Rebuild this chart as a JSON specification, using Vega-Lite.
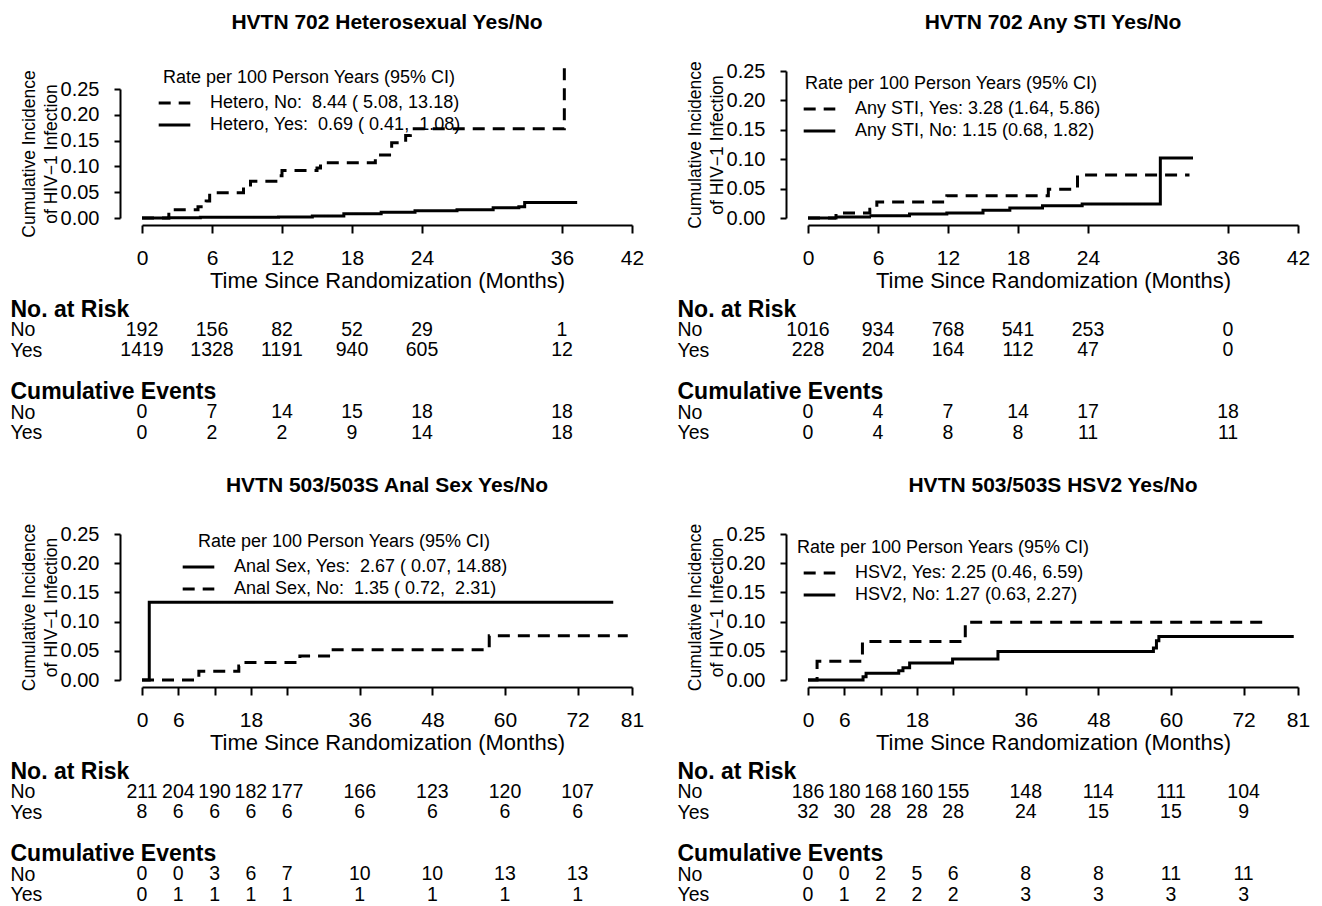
{
  "$schema": "https://vega.github.io/schema/vega-lite/v6.json",
  "background": "white",
  "padding": {"left": 10, "top": 11, "right": 5, "bottom": 5},
  "datasets": {
    "curves": [
      {"panel":"TL","grp":"Hetero, No:\u00a0 8.44 ( 5.08, 13.18)","t":0,"p":0},
      {"panel":"TL","grp":"Hetero, No:\u00a0 8.44 ( 5.08, 13.18)","t":2.3,"p":0.016},
      {"panel":"TL","grp":"Hetero, No:\u00a0 8.44 ( 5.08, 13.18)","t":4.8,"p":0.022},
      {"panel":"TL","grp":"Hetero, No:\u00a0 8.44 ( 5.08, 13.18)","t":5.5,"p":0.033},
      {"panel":"TL","grp":"Hetero, No:\u00a0 8.44 ( 5.08, 13.18)","t":5.8,"p":0.049},
      {"panel":"TL","grp":"Hetero, No:\u00a0 8.44 ( 5.08, 13.18)","t":8.7,"p":0.06},
      {"panel":"TL","grp":"Hetero, No:\u00a0 8.44 ( 5.08, 13.18)","t":9.3,"p":0.071},
      {"panel":"TL","grp":"Hetero, No:\u00a0 8.44 ( 5.08, 13.18)","t":11.7,"p":0.082},
      {"panel":"TL","grp":"Hetero, No:\u00a0 8.44 ( 5.08, 13.18)","t":12.0,"p":0.092},
      {"panel":"TL","grp":"Hetero, No:\u00a0 8.44 ( 5.08, 13.18)","t":15.0,"p":0.097},
      {"panel":"TL","grp":"Hetero, No:\u00a0 8.44 ( 5.08, 13.18)","t":15.3,"p":0.107},
      {"panel":"TL","grp":"Hetero, No:\u00a0 8.44 ( 5.08, 13.18)","t":20.0,"p":0.122},
      {"panel":"TL","grp":"Hetero, No:\u00a0 8.44 ( 5.08, 13.18)","t":21.4,"p":0.146},
      {"panel":"TL","grp":"Hetero, No:\u00a0 8.44 ( 5.08, 13.18)","t":22.6,"p":0.16},
      {"panel":"TL","grp":"Hetero, No:\u00a0 8.44 ( 5.08, 13.18)","t":23.0,"p":0.173},
      {"panel":"TL","grp":"Hetero, No:\u00a0 8.44 ( 5.08, 13.18)","t":36.2,"p":0.293},
      {"panel":"TL","grp":"Hetero, Yes:\u00a0 0.69 ( 0.41,\u00a0 1.08)","t":0,"p":0},
      {"panel":"TL","grp":"Hetero, Yes:\u00a0 0.69 ( 0.41,\u00a0 1.08)","t":2.3,"p":0.0007},
      {"panel":"TL","grp":"Hetero, Yes:\u00a0 0.69 ( 0.41,\u00a0 1.08)","t":5.0,"p":0.0014},
      {"panel":"TL","grp":"Hetero, Yes:\u00a0 0.69 ( 0.41,\u00a0 1.08)","t":11.7,"p":0.002},
      {"panel":"TL","grp":"Hetero, Yes:\u00a0 0.69 ( 0.41,\u00a0 1.08)","t":14.6,"p":0.004},
      {"panel":"TL","grp":"Hetero, Yes:\u00a0 0.69 ( 0.41,\u00a0 1.08)","t":17.3,"p":0.008},
      {"panel":"TL","grp":"Hetero, Yes:\u00a0 0.69 ( 0.41,\u00a0 1.08)","t":20.5,"p":0.011},
      {"panel":"TL","grp":"Hetero, Yes:\u00a0 0.69 ( 0.41,\u00a0 1.08)","t":23.4,"p":0.014},
      {"panel":"TL","grp":"Hetero, Yes:\u00a0 0.69 ( 0.41,\u00a0 1.08)","t":27.0,"p":0.016},
      {"panel":"TL","grp":"Hetero, Yes:\u00a0 0.69 ( 0.41,\u00a0 1.08)","t":30.1,"p":0.02},
      {"panel":"TL","grp":"Hetero, Yes:\u00a0 0.69 ( 0.41,\u00a0 1.08)","t":32.3,"p":0.022},
      {"panel":"TL","grp":"Hetero, Yes:\u00a0 0.69 ( 0.41,\u00a0 1.08)","t":32.8,"p":0.03},
      {"panel":"TL","grp":"Hetero, Yes:\u00a0 0.69 ( 0.41,\u00a0 1.08)","t":37.3,"p":0.03},
      {"panel":"TR","grp":"Any STI, Yes: 3.28 (1.64, 5.86)","t":0,"p":0},
      {"panel":"TR","grp":"Any STI, Yes: 3.28 (1.64, 5.86)","t":2.4,"p":0.0085},
      {"panel":"TR","grp":"Any STI, Yes: 3.28 (1.64, 5.86)","t":5.3,"p":0.015},
      {"panel":"TR","grp":"Any STI, Yes: 3.28 (1.64, 5.86)","t":5.9,"p":0.027},
      {"panel":"TR","grp":"Any STI, Yes: 3.28 (1.64, 5.86)","t":11.9,"p":0.038},
      {"panel":"TR","grp":"Any STI, Yes: 3.28 (1.64, 5.86)","t":20.6,"p":0.049},
      {"panel":"TR","grp":"Any STI, Yes: 3.28 (1.64, 5.86)","t":23.1,"p":0.073},
      {"panel":"TR","grp":"Any STI, Yes: 3.28 (1.64, 5.86)","t":32.7,"p":0.073},
      {"panel":"TR","grp":"Any STI, No: 1.15 (0.68, 1.82)","t":0,"p":0},
      {"panel":"TR","grp":"Any STI, No: 1.15 (0.68, 1.82)","t":2.4,"p":0.0017},
      {"panel":"TR","grp":"Any STI, No: 1.15 (0.68, 1.82)","t":5.4,"p":0.004},
      {"panel":"TR","grp":"Any STI, No: 1.15 (0.68, 1.82)","t":8.7,"p":0.0068},
      {"panel":"TR","grp":"Any STI, No: 1.15 (0.68, 1.82)","t":11.9,"p":0.0085},
      {"panel":"TR","grp":"Any STI, No: 1.15 (0.68, 1.82)","t":15.0,"p":0.013},
      {"panel":"TR","grp":"Any STI, No: 1.15 (0.68, 1.82)","t":17.3,"p":0.017},
      {"panel":"TR","grp":"Any STI, No: 1.15 (0.68, 1.82)","t":20.1,"p":0.021},
      {"panel":"TR","grp":"Any STI, No: 1.15 (0.68, 1.82)","t":23.5,"p":0.024},
      {"panel":"TR","grp":"Any STI, No: 1.15 (0.68, 1.82)","t":30.2,"p":0.102},
      {"panel":"TR","grp":"Any STI, No: 1.15 (0.68, 1.82)","t":33.0,"p":0.102},
      {"panel":"BL","grp":"Anal Sex, Yes:\u00a0 2.67 ( 0.07, 14.88)","t":0,"p":0},
      {"panel":"BL","grp":"Anal Sex, Yes:\u00a0 2.67 ( 0.07, 14.88)","t":1.2,"p":0.133},
      {"panel":"BL","grp":"Anal Sex, Yes:\u00a0 2.67 ( 0.07, 14.88)","t":77.9,"p":0.133},
      {"panel":"BL","grp":"Anal Sex, No:\u00a0 1.35 ( 0.72,\u00a0 2.31)","t":0,"p":0},
      {"panel":"BL","grp":"Anal Sex, No:\u00a0 1.35 ( 0.72,\u00a0 2.31)","t":9.4,"p":0.015},
      {"panel":"BL","grp":"Anal Sex, No:\u00a0 1.35 ( 0.72,\u00a0 2.31)","t":16.0,"p":0.024},
      {"panel":"BL","grp":"Anal Sex, No:\u00a0 1.35 ( 0.72,\u00a0 2.31)","t":16.7,"p":0.03},
      {"panel":"BL","grp":"Anal Sex, No:\u00a0 1.35 ( 0.72,\u00a0 2.31)","t":25.7,"p":0.037},
      {"panel":"BL","grp":"Anal Sex, No:\u00a0 1.35 ( 0.72,\u00a0 2.31)","t":26.1,"p":0.041},
      {"panel":"BL","grp":"Anal Sex, No:\u00a0 1.35 ( 0.72,\u00a0 2.31)","t":31.3,"p":0.049},
      {"panel":"BL","grp":"Anal Sex, No:\u00a0 1.35 ( 0.72,\u00a0 2.31)","t":31.6,"p":0.052},
      {"panel":"BL","grp":"Anal Sex, No:\u00a0 1.35 ( 0.72,\u00a0 2.31)","t":57.4,"p":0.0756},
      {"panel":"BL","grp":"Anal Sex, No:\u00a0 1.35 ( 0.72,\u00a0 2.31)","t":80.3,"p":0.0756},
      {"panel":"BR","grp":"HSV2, Yes: 2.25 (0.46, 6.59)","t":0,"p":0},
      {"panel":"BR","grp":"HSV2, Yes: 2.25 (0.46, 6.59)","t":1.5,"p":0.032},
      {"panel":"BR","grp":"HSV2, Yes: 2.25 (0.46, 6.59)","t":9.0,"p":0.066},
      {"panel":"BR","grp":"HSV2, Yes: 2.25 (0.46, 6.59)","t":26.0,"p":0.099},
      {"panel":"BR","grp":"HSV2, Yes: 2.25 (0.46, 6.59)","t":75.1,"p":0.099},
      {"panel":"BR","grp":"HSV2, No: 1.27 (0.63, 2.27)","t":0,"p":0},
      {"panel":"BR","grp":"HSV2, No: 1.27 (0.63, 2.27)","t":9.1,"p":0.0057},
      {"panel":"BR","grp":"HSV2, No: 1.27 (0.63, 2.27)","t":9.6,"p":0.0115},
      {"panel":"BR","grp":"HSV2, No: 1.27 (0.63, 2.27)","t":15.0,"p":0.016},
      {"panel":"BR","grp":"HSV2, No: 1.27 (0.63, 2.27)","t":15.7,"p":0.021},
      {"panel":"BR","grp":"HSV2, No: 1.27 (0.63, 2.27)","t":16.8,"p":0.029},
      {"panel":"BR","grp":"HSV2, No: 1.27 (0.63, 2.27)","t":23.9,"p":0.036},
      {"panel":"BR","grp":"HSV2, No: 1.27 (0.63, 2.27)","t":31.4,"p":0.049},
      {"panel":"BR","grp":"HSV2, No: 1.27 (0.63, 2.27)","t":57.1,"p":0.055},
      {"panel":"BR","grp":"HSV2, No: 1.27 (0.63, 2.27)","t":57.6,"p":0.067},
      {"panel":"BR","grp":"HSV2, No: 1.27 (0.63, 2.27)","t":58.0,"p":0.0747},
      {"panel":"BR","grp":"HSV2, No: 1.27 (0.63, 2.27)","t":80.3,"p":0.0747}
    ],
    "risk": [
      {"panel":"TL","row":"rN","t":0,"n":192},{"panel":"TL","row":"rN","t":6,"n":156},{"panel":"TL","row":"rN","t":12,"n":82},{"panel":"TL","row":"rN","t":18,"n":52},{"panel":"TL","row":"rN","t":24,"n":29},{"panel":"TL","row":"rN","t":36,"n":1},
      {"panel":"TL","row":"rY","t":0,"n":1419},{"panel":"TL","row":"rY","t":6,"n":1328},{"panel":"TL","row":"rY","t":12,"n":1191},{"panel":"TL","row":"rY","t":18,"n":940},{"panel":"TL","row":"rY","t":24,"n":605},{"panel":"TL","row":"rY","t":36,"n":12},
      {"panel":"TL","row":"eN","t":0,"n":0},{"panel":"TL","row":"eN","t":6,"n":7},{"panel":"TL","row":"eN","t":12,"n":14},{"panel":"TL","row":"eN","t":18,"n":15},{"panel":"TL","row":"eN","t":24,"n":18},{"panel":"TL","row":"eN","t":36,"n":18},
      {"panel":"TL","row":"eY","t":0,"n":0},{"panel":"TL","row":"eY","t":6,"n":2},{"panel":"TL","row":"eY","t":12,"n":2},{"panel":"TL","row":"eY","t":18,"n":9},{"panel":"TL","row":"eY","t":24,"n":14},{"panel":"TL","row":"eY","t":36,"n":18},
      {"panel":"TR","row":"rN","t":0,"n":1016},{"panel":"TR","row":"rN","t":6,"n":934},{"panel":"TR","row":"rN","t":12,"n":768},{"panel":"TR","row":"rN","t":18,"n":541},{"panel":"TR","row":"rN","t":24,"n":253},{"panel":"TR","row":"rN","t":36,"n":0},
      {"panel":"TR","row":"rY","t":0,"n":228},{"panel":"TR","row":"rY","t":6,"n":204},{"panel":"TR","row":"rY","t":12,"n":164},{"panel":"TR","row":"rY","t":18,"n":112},{"panel":"TR","row":"rY","t":24,"n":47},{"panel":"TR","row":"rY","t":36,"n":0},
      {"panel":"TR","row":"eN","t":0,"n":0},{"panel":"TR","row":"eN","t":6,"n":4},{"panel":"TR","row":"eN","t":12,"n":7},{"panel":"TR","row":"eN","t":18,"n":14},{"panel":"TR","row":"eN","t":24,"n":17},{"panel":"TR","row":"eN","t":36,"n":18},
      {"panel":"TR","row":"eY","t":0,"n":0},{"panel":"TR","row":"eY","t":6,"n":4},{"panel":"TR","row":"eY","t":12,"n":8},{"panel":"TR","row":"eY","t":18,"n":8},{"panel":"TR","row":"eY","t":24,"n":11},{"panel":"TR","row":"eY","t":36,"n":11},
      {"panel":"BL","row":"rN","t":0,"n":211},{"panel":"BL","row":"rN","t":6,"n":204},{"panel":"BL","row":"rN","t":12,"n":190},{"panel":"BL","row":"rN","t":18,"n":182},{"panel":"BL","row":"rN","t":24,"n":177},{"panel":"BL","row":"rN","t":36,"n":166},{"panel":"BL","row":"rN","t":48,"n":123},{"panel":"BL","row":"rN","t":60,"n":120},{"panel":"BL","row":"rN","t":72,"n":107},
      {"panel":"BL","row":"rY","t":0,"n":8},{"panel":"BL","row":"rY","t":6,"n":6},{"panel":"BL","row":"rY","t":12,"n":6},{"panel":"BL","row":"rY","t":18,"n":6},{"panel":"BL","row":"rY","t":24,"n":6},{"panel":"BL","row":"rY","t":36,"n":6},{"panel":"BL","row":"rY","t":48,"n":6},{"panel":"BL","row":"rY","t":60,"n":6},{"panel":"BL","row":"rY","t":72,"n":6},
      {"panel":"BL","row":"eN","t":0,"n":0},{"panel":"BL","row":"eN","t":6,"n":0},{"panel":"BL","row":"eN","t":12,"n":3},{"panel":"BL","row":"eN","t":18,"n":6},{"panel":"BL","row":"eN","t":24,"n":7},{"panel":"BL","row":"eN","t":36,"n":10},{"panel":"BL","row":"eN","t":48,"n":10},{"panel":"BL","row":"eN","t":60,"n":13},{"panel":"BL","row":"eN","t":72,"n":13},
      {"panel":"BL","row":"eY","t":0,"n":0},{"panel":"BL","row":"eY","t":6,"n":1},{"panel":"BL","row":"eY","t":12,"n":1},{"panel":"BL","row":"eY","t":18,"n":1},{"panel":"BL","row":"eY","t":24,"n":1},{"panel":"BL","row":"eY","t":36,"n":1},{"panel":"BL","row":"eY","t":48,"n":1},{"panel":"BL","row":"eY","t":60,"n":1},{"panel":"BL","row":"eY","t":72,"n":1},
      {"panel":"BR","row":"rN","t":0,"n":186},{"panel":"BR","row":"rN","t":6,"n":180},{"panel":"BR","row":"rN","t":12,"n":168},{"panel":"BR","row":"rN","t":18,"n":160},{"panel":"BR","row":"rN","t":24,"n":155},{"panel":"BR","row":"rN","t":36,"n":148},{"panel":"BR","row":"rN","t":48,"n":114},{"panel":"BR","row":"rN","t":60,"n":111},{"panel":"BR","row":"rN","t":72,"n":104},
      {"panel":"BR","row":"rY","t":0,"n":32},{"panel":"BR","row":"rY","t":6,"n":30},{"panel":"BR","row":"rY","t":12,"n":28},{"panel":"BR","row":"rY","t":18,"n":28},{"panel":"BR","row":"rY","t":24,"n":28},{"panel":"BR","row":"rY","t":36,"n":24},{"panel":"BR","row":"rY","t":48,"n":15},{"panel":"BR","row":"rY","t":60,"n":15},{"panel":"BR","row":"rY","t":72,"n":9},
      {"panel":"BR","row":"eN","t":0,"n":0},{"panel":"BR","row":"eN","t":6,"n":0},{"panel":"BR","row":"eN","t":12,"n":2},{"panel":"BR","row":"eN","t":18,"n":5},{"panel":"BR","row":"eN","t":24,"n":6},{"panel":"BR","row":"eN","t":36,"n":8},{"panel":"BR","row":"eN","t":48,"n":8},{"panel":"BR","row":"eN","t":60,"n":11},{"panel":"BR","row":"eN","t":72,"n":11},
      {"panel":"BR","row":"eY","t":0,"n":0},{"panel":"BR","row":"eY","t":6,"n":1},{"panel":"BR","row":"eY","t":12,"n":2},{"panel":"BR","row":"eY","t":18,"n":2},{"panel":"BR","row":"eY","t":24,"n":2},{"panel":"BR","row":"eY","t":36,"n":3},{"panel":"BR","row":"eY","t":48,"n":3},{"panel":"BR","row":"eY","t":60,"n":3},{"panel":"BR","row":"eY","t":72,"n":3}
    ]
  },
  "vconcat": [
    {
      "hconcat": [
        {
          "vconcat": [
            {
              "width": 490, "height": 147,
              "title": {"text": "HVTN 702 Heterosexual Yes/No", "offset": 28, "frame": "group"},
              "data": {"name": "curves"},
              "transform": [{"filter": "datum.panel == 'TL'"}],
              "mark": {"type": "line", "interpolate": "step-after", "strokeWidth": 3, "color": "black"},
              "encoding": {
                "x": {"field": "t", "type": "quantitative", "scale": {"domain": [0, 42], "nice": false}, "axis": {"values": [0, 6, 12, 18, 24, 36, 42], "title": "Time Since Randomization (Months)"}},
                "y": {"field": "p", "type": "quantitative", "scale": {"domain": [0, 0.25], "range": [147, 18], "nice": false}, "axis": {"values": [0, 0.05, 0.1, 0.15, 0.2, 0.25], "format": ".2f", "title": ["Cumulative Incidence", "of HIV\u22121 Infection"]}},
                "strokeDash": {"field": "grp", "type": "nominal", "scale": {"domain": ["Hetero, No:\u00a0 8.44 ( 5.08, 13.18)", "Hetero, Yes:\u00a0 0.69 ( 0.41,\u00a0 1.08)"], "range": [[12, 8], [1, 0]]}, "legend": {"orient": "none", "legendX": 15, "legendY": -2, "title": "Rate per 100 Person Years (95% CI)"}}
              }
            },
            {
              "width": 490, "height": 144,
              "data": {"name": "risk"},
              "transform": [{"filter": "datum.panel == 'TL'"}],
              "mark": {"type": "text", "fontSize": 19.5, "baseline": "middle", "align": "center"},
              "encoding": {
                "x": {"field": "t", "type": "quantitative", "scale": {"domain": [0, 42], "nice": false}, "axis": null},
                "y": {"field": "row", "type": "ordinal", "scale": {"type": "point", "domain": ["h1", "rN", "rY", "sp", "h2", "eN", "eY"], "padding": 0.5},
                  "axis": {"title": null, "domain": false, "ticks": false, "tickSize": 0, "offset": 0, "labelAlign": "left", "labelBaseline": "middle", "labelLimit": 400, "labelPadding": 132, "labelColor": "black",
                    "labelExpr": "datum.value == 'h1' ? 'No. at Risk' : datum.value == 'h2' ? 'Cumulative Events' : datum.value == 'rN' || datum.value == 'eN' ? 'No' : datum.value == 'rY' || datum.value == 'eY' ? 'Yes' : ''",
                    "labelFontSize": {"condition": {"test": "datum.value == 'h1' || datum.value == 'h2'", "value": 23}, "value": 19.5},
                    "labelFontWeight": {"condition": {"test": "datum.value == 'h1' || datum.value == 'h2'", "value": "bold"}, "value": "normal"}}},
                "text": {"field": "n", "type": "quantitative", "format": "d"}
              }
            }
          ],
          "spacing": 7,
          "resolve": {"scale": {"strokeDash": "independent"}, "legend": {"strokeDash": "independent"}}
        },
        {
          "vconcat": [
            {
              "width": 490, "height": 147,
              "title": {"text": "HVTN 702 Any STI Yes/No", "offset": 28, "frame": "group"},
              "data": {"name": "curves"},
              "transform": [{"filter": "datum.panel == 'TR'"}],
              "mark": {"type": "line", "interpolate": "step-after", "strokeWidth": 3, "color": "black"},
              "encoding": {
                "x": {"field": "t", "type": "quantitative", "scale": {"domain": [0, 42], "nice": false}, "axis": {"values": [0, 6, 12, 18, 24, 36, 42], "title": "Time Since Randomization (Months)"}},
                "y": {"field": "p", "type": "quantitative", "scale": {"domain": [0, 0.25], "nice": false}, "axis": {"values": [0, 0.05, 0.1, 0.15, 0.2, 0.25], "format": ".2f", "title": ["Cumulative Incidence", "of HIV\u22121 Infection"]}},
                "strokeDash": {"field": "grp", "type": "nominal", "scale": {"domain": ["Any STI, Yes: 3.28 (1.64, 5.86)", "Any STI, No: 1.15 (0.68, 1.82)"], "range": [[12, 8], [1, 0]]}, "legend": {"orient": "none", "legendX": -6, "legendY": 4, "title": "Rate per 100 Person Years (95% CI)"}}
              }
            },
            {
              "width": 490, "height": 144,
              "data": {"name": "risk"},
              "transform": [{"filter": "datum.panel == 'TR'"}],
              "mark": {"type": "text", "fontSize": 19.5, "baseline": "middle", "align": "center"},
              "encoding": {
                "x": {"field": "t", "type": "quantitative", "scale": {"domain": [0, 42], "nice": false}, "axis": null},
                "y": {"field": "row", "type": "ordinal", "scale": {"type": "point", "domain": ["h1", "rN", "rY", "sp", "h2", "eN", "eY"], "padding": 0.5},
                  "axis": {"title": null, "domain": false, "ticks": false, "tickSize": 0, "offset": 0, "labelAlign": "left", "labelBaseline": "middle", "labelLimit": 400, "labelPadding": 131, "labelColor": "black",
                    "labelExpr": "datum.value == 'h1' ? 'No. at Risk' : datum.value == 'h2' ? 'Cumulative Events' : datum.value == 'rN' || datum.value == 'eN' ? 'No' : datum.value == 'rY' || datum.value == 'eY' ? 'Yes' : ''",
                    "labelFontSize": {"condition": {"test": "datum.value == 'h1' || datum.value == 'h2'", "value": 23}, "value": 19.5},
                    "labelFontWeight": {"condition": {"test": "datum.value == 'h1' || datum.value == 'h2'", "value": "bold"}, "value": "normal"}}},
                "text": {"field": "n", "type": "quantitative", "format": "d"}
              }
            }
          ],
          "spacing": 7,
          "resolve": {"scale": {"strokeDash": "independent"}, "legend": {"strokeDash": "independent"}}
        }
      ],
      "spacing": 33,
      "resolve": {"scale": {"strokeDash": "independent"}, "legend": {"strokeDash": "independent"}}
    },
    {
      "hconcat": [
        {
          "vconcat": [
            {
              "width": 490, "height": 146,
              "title": {"text": "HVTN 503/503S Anal Sex Yes/No", "offset": 27, "frame": "group"},
              "data": {"name": "curves"},
              "transform": [{"filter": "datum.panel == 'BL'"}],
              "mark": {"type": "line", "interpolate": "step-after", "strokeWidth": 3, "color": "black"},
              "encoding": {
                "x": {"field": "t", "type": "quantitative", "scale": {"domain": [0, 81], "nice": false}, "axis": {"values": [0, 6, 12, 18, 24, 36, 48, 60, 72, 81], "labelExpr": "datum.value == 12 || datum.value == 24 ? '' : datum.label", "title": "Time Since Randomization (Months)"}},
                "y": {"field": "p", "type": "quantitative", "scale": {"domain": [0, 0.25], "nice": false}, "axis": {"values": [0, 0.05, 0.1, 0.15, 0.2, 0.25], "format": ".2f", "title": ["Cumulative Incidence", "of HIV\u22121 Infection"]}},
                "strokeDash": {"field": "grp", "type": "nominal", "scale": {"domain": ["Anal Sex, Yes:\u00a0 2.67 ( 0.07, 14.88)", "Anal Sex, No:\u00a0 1.35 ( 0.72,\u00a0 2.31)"], "range": [[1, 0], [12, 8]]}, "legend": {"orient": "none", "legendX": 39, "legendY": -1, "title": "Rate per 100 Person Years (95% CI)"}}
              }
            },
            {
              "width": 490, "height": 144,
              "data": {"name": "risk"},
              "transform": [{"filter": "datum.panel == 'BL'"}],
              "mark": {"type": "text", "fontSize": 19.5, "baseline": "middle", "align": "center"},
              "encoding": {
                "x": {"field": "t", "type": "quantitative", "scale": {"domain": [0, 81], "nice": false}, "axis": null},
                "y": {"field": "row", "type": "ordinal", "scale": {"type": "point", "domain": ["h1", "rN", "rY", "sp", "h2", "eN", "eY"], "padding": 0.5},
                  "axis": {"title": null, "domain": false, "ticks": false, "tickSize": 0, "offset": 0, "labelAlign": "left", "labelBaseline": "middle", "labelLimit": 400, "labelPadding": 132, "labelColor": "black",
                    "labelExpr": "datum.value == 'h1' ? 'No. at Risk' : datum.value == 'h2' ? 'Cumulative Events' : datum.value == 'rN' || datum.value == 'eN' ? 'No' : datum.value == 'rY' || datum.value == 'eY' ? 'Yes' : ''",
                    "labelFontSize": {"condition": {"test": "datum.value == 'h1' || datum.value == 'h2'", "value": 23}, "value": 19.5},
                    "labelFontWeight": {"condition": {"test": "datum.value == 'h1' || datum.value == 'h2'", "value": "bold"}, "value": "normal"}}},
                "text": {"field": "n", "type": "quantitative", "format": "d"}
              }
            }
          ],
          "spacing": 7,
          "resolve": {"scale": {"strokeDash": "independent"}, "legend": {"strokeDash": "independent"}}
        },
        {
          "vconcat": [
            {
              "width": 490, "height": 146,
              "title": {"text": "HVTN 503/503S HSV2 Yes/No", "offset": 27, "frame": "group"},
              "data": {"name": "curves"},
              "transform": [{"filter": "datum.panel == 'BR'"}],
              "mark": {"type": "line", "interpolate": "step-after", "strokeWidth": 3, "color": "black"},
              "encoding": {
                "x": {"field": "t", "type": "quantitative", "scale": {"domain": [0, 81], "nice": false}, "axis": {"values": [0, 6, 12, 18, 24, 36, 48, 60, 72, 81], "labelExpr": "datum.value == 12 || datum.value == 24 ? '' : datum.label", "title": "Time Since Randomization (Months)"}},
                "y": {"field": "p", "type": "quantitative", "scale": {"domain": [0, 0.25], "nice": false}, "axis": {"values": [0, 0.05, 0.1, 0.15, 0.2, 0.25], "format": ".2f", "title": ["Cumulative Incidence", "of HIV\u22121 Infection"]}},
                "strokeDash": {"field": "grp", "type": "nominal", "scale": {"domain": ["HSV2, Yes: 2.25 (0.46, 6.59)", "HSV2, No: 1.27 (0.63, 2.27)"], "range": [[12, 8], [1, 0]]}, "legend": {"orient": "none", "legendX": -11, "legendY": 5, "title": "Rate per 100 Person Years (95% CI)"}}
              }
            },
            {
              "width": 490, "height": 144,
              "data": {"name": "risk"},
              "transform": [{"filter": "datum.panel == 'BR'"}],
              "mark": {"type": "text", "fontSize": 19.5, "baseline": "middle", "align": "center"},
              "encoding": {
                "x": {"field": "t", "type": "quantitative", "scale": {"domain": [0, 81], "nice": false}, "axis": null},
                "y": {"field": "row", "type": "ordinal", "scale": {"type": "point", "domain": ["h1", "rN", "rY", "sp", "h2", "eN", "eY"], "padding": 0.5},
                  "axis": {"title": null, "domain": false, "ticks": false, "tickSize": 0, "offset": 0, "labelAlign": "left", "labelBaseline": "middle", "labelLimit": 400, "labelPadding": 131, "labelColor": "black",
                    "labelExpr": "datum.value == 'h1' ? 'No. at Risk' : datum.value == 'h2' ? 'Cumulative Events' : datum.value == 'rN' || datum.value == 'eN' ? 'No' : datum.value == 'rY' || datum.value == 'eY' ? 'Yes' : ''",
                    "labelFontSize": {"condition": {"test": "datum.value == 'h1' || datum.value == 'h2'", "value": 23}, "value": 19.5},
                    "labelFontWeight": {"condition": {"test": "datum.value == 'h1' || datum.value == 'h2'", "value": "bold"}, "value": "normal"}}},
                "text": {"field": "n", "type": "quantitative", "format": "d"}
              }
            }
          ],
          "spacing": 7,
          "resolve": {"scale": {"strokeDash": "independent"}, "legend": {"strokeDash": "independent"}}
        }
      ],
      "spacing": 33,
      "resolve": {"scale": {"strokeDash": "independent"}, "legend": {"strokeDash": "independent"}}
    }
  ],
  "spacing": 32,
  "resolve": {"scale": {"strokeDash": "independent"}, "legend": {"strokeDash": "independent"}},
  "config": {
    "font": "Liberation Sans",
    "view": {"stroke": null},
    "title": {"fontSize": 21, "fontWeight": "bold", "color": "black", "anchor": "middle"},
    "text": {"color": "black", "font": "Liberation Sans"},
    "axis": {"grid": false, "domainColor": "black", "tickColor": "black", "domainWidth": 2, "tickWidth": 2, "labelColor": "black", "titleColor": "black", "titleFontWeight": "normal", "labelFlush": false, "labelOverlap": false},
    "axisX": {"offset": 7, "tickSize": 8, "labelFontSize": 21, "labelPadding": 14, "titleFontSize": 22, "titlePadding": 2},
    "axisY": {"offset": 22, "tickSize": 6, "labelFontSize": 20, "labelPadding": 15, "titleFontSize": 17.5, "titleLineHeight": 21.7, "titlePadding": 0},
    "legend": {"padding": 0, "symbolType": "stroke", "symbolSize": 1000, "symbolStrokeWidth": 3, "symbolStrokeColor": "black", "clipHeight": 22, "rowPadding": 0, "labelOffset": 18, "labelFontSize": 18, "titleFontSize": 18, "titleFontWeight": "normal", "titlePadding": 5, "titleAnchor": "middle", "labelLimit": 500, "titleLimit": 500, "labelColor": "black", "titleColor": "black"}
  }
}
